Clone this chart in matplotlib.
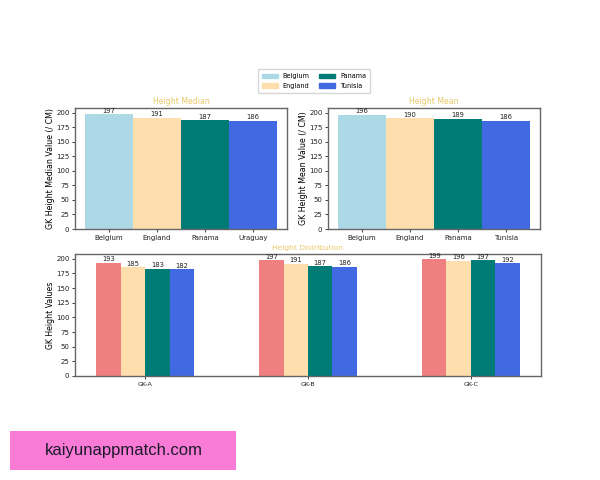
import numpy as np
import matplotlib
matplotlib.use('Agg')
import matplotlib.pyplot as plt
from matplotlib.patches import Patch, Rectangle

median_teams = ['Belgium', 'England', 'Panama', 'Uraguay']
median_values = [197, 191, 187, 186]
mean_teams = ['Belgium', 'England', 'Panama', 'Tunisia']
mean_values = [196, 190, 189, 186]
legend_teams = ['Belgium', 'England', 'Panama', 'Tunisia']
gk_labels = ['GK-A', 'GK-B', 'GK-C']
gk_belgium = [193, 197, 199]
gk_england = [185, 191, 196]
gk_panama = [183, 187, 197]
gk_tunisia = [182, 186, 192]

top_colors = ['lightblue', 'navajowhite', '#017b76', 'royalblue']
bottom_colors = ['lightcoral', 'navajowhite', '#017b76', 'royalblue']
title_color = '#e8c96a'
W, H = 600, 480


def make_axes(fig, left, top, right, bottom):
    ax = fig.add_axes([left / W, 1 - bottom / H, (right - left) / W, (bottom - top) / H])
    for spine in ax.spines.values():
        spine.set_color('#666666')
        spine.set_linewidth(1.0)
    ax.tick_params(labelsize=5, length=2, width=0.6, pad=2, colors='#222222')
    ax.set_ylim(0, 208)
    ax.set_yticks(range(0, 201, 25))
    return ax


def label_bars(ax, bars):
    for bar in bars:
        ax.text(bar.get_x() + bar.get_width() / 2, bar.get_height() + 1, '%d' % bar.get_height(),
                ha='center', va='bottom', fontsize=4.9, color='#222222')


fig = plt.figure(figsize=(6, 4.8), dpi=100)

# top row
ax1 = make_axes(fig, 75, 108, 287, 229)
bars = ax1.bar(median_teams, median_values, width=1.0, color=top_colors)
label_bars(ax1, bars)
ax1.set_ylabel('GK Height Median Value (/ CM)', fontsize=5.7, labelpad=0.5)
ax1.set_title('Height Median', fontsize=5.6, color=title_color, pad=3)

ax2 = make_axes(fig, 328, 108, 540, 229)
bars = ax2.bar(mean_teams, mean_values, width=1.0, color=top_colors)
label_bars(ax2, bars)
ax2.set_ylabel('GK Height Mean Value (/ CM)', fontsize=5.7, labelpad=0.5)
ax2.set_title('Height Mean', fontsize=5.6, color=title_color, pad=3)

# bottom row
ax3 = make_axes(fig, 75, 254, 541, 376)
x = np.arange(len(gk_labels))
width = 0.15
series = [gk_belgium, gk_england, gk_panama, gk_tunisia]
for i, values in enumerate(series):
    bars = ax3.bar(x + (i - 1.5) * width, values, width=width, color=bottom_colors[i])
    label_bars(ax3, bars)
ax3.set_xticks(x)
ax3.set_xticklabels(gk_labels, fontsize=4.6)
ax3.set_ylabel('GK Height Values', fontsize=5.6, labelpad=0.5)
ax3.set_title('Height Distribution', fontsize=5.4, color=title_color, pad=3)

handles = [Patch(color=c) for c in top_colors]
fig.legend(handles, legend_teams, ncol=2, fontsize=4.7, loc='center',
           bbox_to_anchor=(314 / W, 1 - 81 / H), columnspacing=1.4, handlelength=2.4,
           borderpad=0.6, labelspacing=0.5)

# pink banner
fig.add_artist(Rectangle((10 / W, 1 - 470 / H), 226 / W, 39 / H, transform=fig.transFigure,
                         facecolor='#f97bd6', edgecolor='none'))
fig.text(123.5 / W, 1 - 451 / H, 'kaiyunappmatch.com', fontsize=12, family='Liberation Sans',
         color='#1a1a2a', ha='center', va='center')

fig.savefig('out.png', dpi=100)
